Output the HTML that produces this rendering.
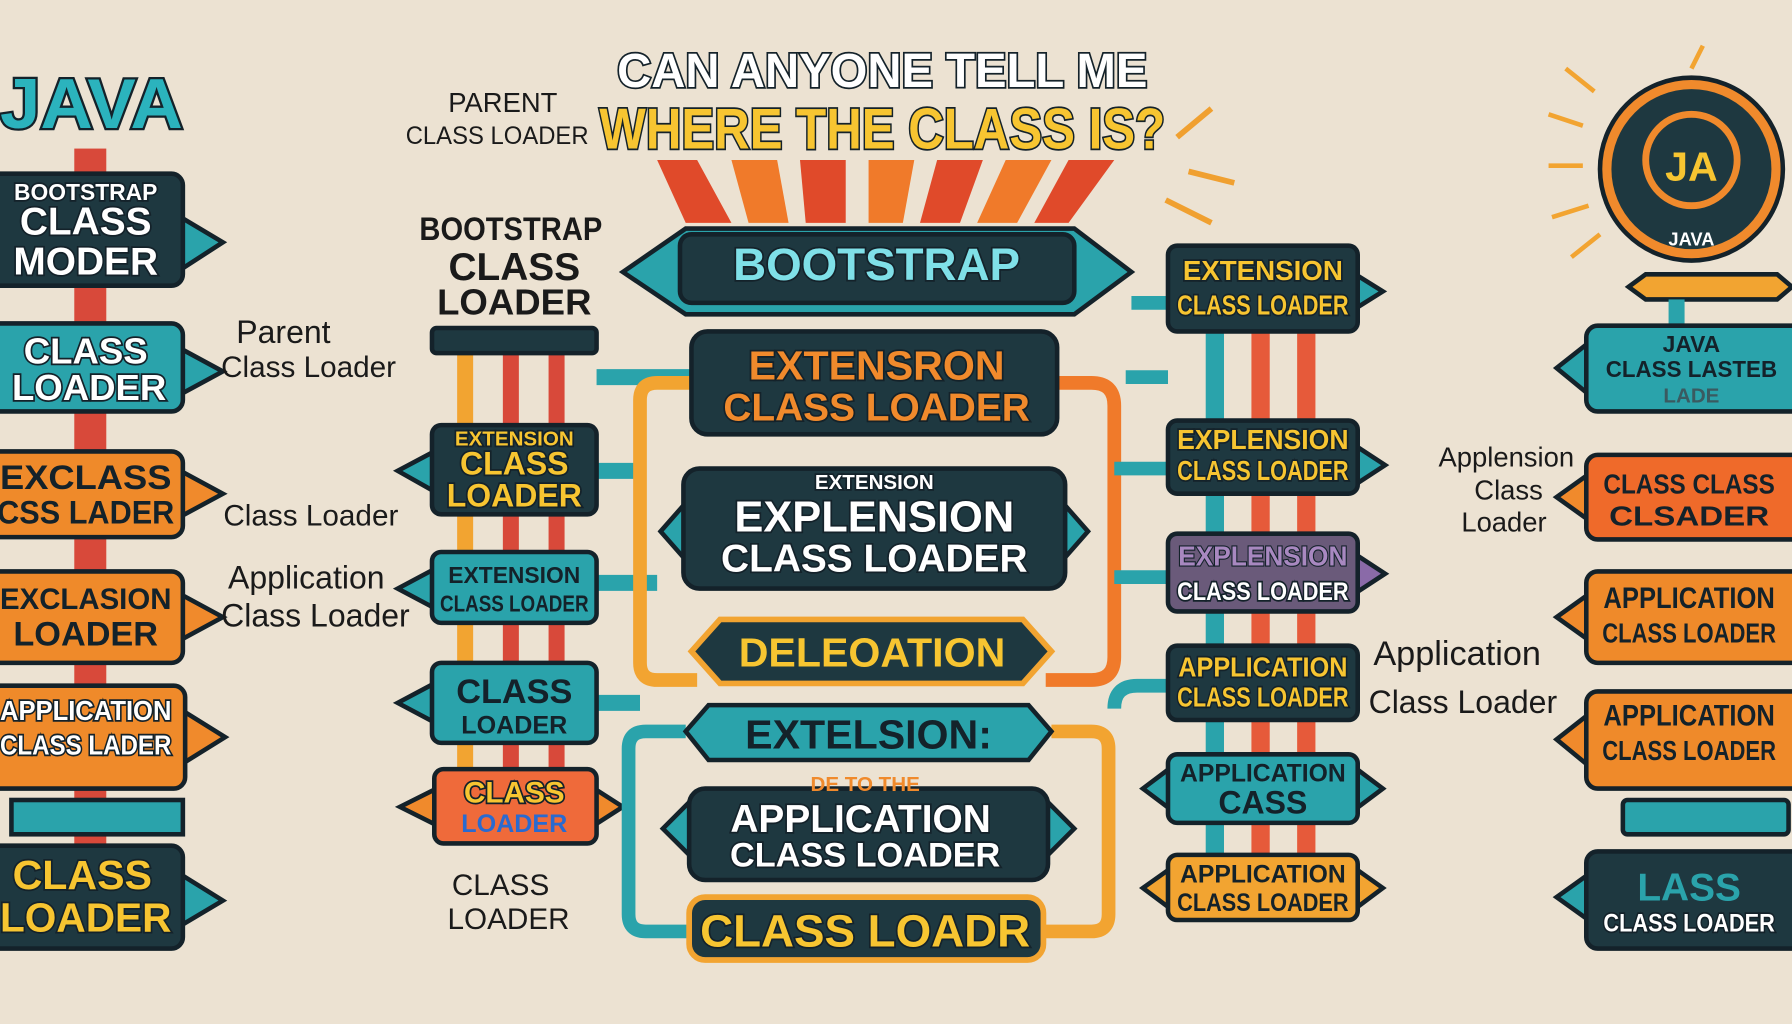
<!DOCTYPE html>
<html><head><meta charset="utf-8"><style>
html,body{margin:0;padding:0;background:#ece2d2;overflow:hidden}
svg{display:block}
text{font-family:"Liberation Sans",sans-serif;font-weight:bold;text-anchor:middle}
.w{fill:#fff;stroke:#14222a;stroke-width:3;paint-order:stroke}
.y{fill:#f7c531;stroke:#14222a;stroke-width:3;paint-order:stroke}
.o{fill:#f08a2c;stroke:#14222a;stroke-width:3;paint-order:stroke}
.d{fill:#14222a}
.p{font-weight:normal;fill:#1a1a1a}
.box{stroke:#14222a;stroke-width:4}
</style></head><body>
<svg width="1792" height="1024" viewBox="0 0 1568 896" xmlns="http://www.w3.org/2000/svg">
<rect width="1568" height="896" fill="#ece2d2"/>
<rect x="65" y="130" width="28" height="640" fill="#d8493a"/>
<rect x="10" y="700" width="150" height="30" fill="#2aa3ab" class="box"/>
<text x="80" y="112" font-size="62" fill="#2bb3bd" stroke="#14222a" stroke-width="4" paint-order="stroke" textLength="160" lengthAdjust="spacingAndGlyphs">JAVA</text>
<g><polygon points="158,190 195,212 158,236" fill="#2aa3ab" class="box"/>
<rect x="-10" y="152" width="170" height="98" rx="10" fill="#1e3840" class="box" stroke="#2aa3ab"/>
<text x="75" y="175" font-size="20" class="w">BOOTSTRAP</text>
<text x="75" y="205" font-size="34" class="w">CLASS</text>
<text x="75" y="240" font-size="34" class="w">MODER</text></g>
<g><polygon points="158,305 195,325 158,345" fill="#2aa3ab" class="box"/>
<rect x="-10" y="283" width="170" height="77" rx="10" fill="#2aa3ab" class="box"/>
<text x="75" y="318" font-size="32" class="w">CLASS</text><text x="78" y="350" font-size="32" class="w">LOADER</text></g>
<g><polygon points="158,412 195,432 158,452" fill="#f08a2c" class="box"/>
<rect x="-10" y="395" width="170" height="75" rx="10" fill="#ef8a2a" class="box"/>
<text x="75" y="428" font-size="30" class="d" textLength="150" lengthAdjust="spacingAndGlyphs">EXCLASS</text><text x="75" y="458" font-size="28" class="d" textLength="155" lengthAdjust="spacingAndGlyphs">CSS LADER</text></g>
<g><polygon points="158,520 195,540 158,560" fill="#f08a2c" class="box"/>
<rect x="-10" y="500" width="170" height="80" rx="10" fill="#ef8a2a" class="box"/>
<text x="75" y="533" font-size="26" class="d" textLength="150" lengthAdjust="spacingAndGlyphs">EXCLASION</text><text x="75" y="565" font-size="30" class="d">LOADER</text></g>
<g><polygon points="160,622 197,645 160,668" fill="#f08a2c" class="box"/>
<rect x="-10" y="600" width="172" height="90" rx="10" fill="#ef8a2a" class="box"/>
<text x="75" y="630" font-size="24" class="w" textLength="150" lengthAdjust="spacingAndGlyphs">APPLICATION</text><text x="75" y="660" font-size="24" class="w" textLength="150" lengthAdjust="spacingAndGlyphs">CLASS LADER</text></g>
<g><polygon points="158,765 195,788 158,810" fill="#2aa3ab" class="box"/>
<rect x="-10" y="740" width="170" height="90" rx="10" fill="#1e3840" class="box" stroke="#2aa3ab"/>
<text x="72" y="778" font-size="36" class="y">CLASS</text><text x="75" y="815" font-size="36" class="y" textLength="150" lengthAdjust="spacingAndGlyphs">LOADER</text></g>
<text x="248" y="300" font-size="28" class="p">Parent</text>
<text x="270" y="330" font-size="26" class="p">Class Loader</text>
<text x="272" y="460" font-size="26" class="p">Class Loader</text>
<text x="268" y="515" font-size="28" class="p">Application</text>
<text x="276" y="548" font-size="28" class="p">Class Loader</text>
<text x="440" y="98" font-size="24" class="p">PARENT</text>
<text x="435" y="126" font-size="22" class="p" textLength="160" lengthAdjust="spacingAndGlyphs">CLASS LOADER</text>
<text x="447" y="210" font-size="28" fill="#1a1a1a" textLength="160" lengthAdjust="spacingAndGlyphs">BOOTSTRAP</text>
<text x="450" y="245" font-size="34" fill="#1a1a1a">CLASS</text>
<text x="450" y="275" font-size="32" fill="#1a1a1a">LOADER</text>
<text x="438" y="783" font-size="26" class="p">CLASS</text>
<text x="445" y="813" font-size="26" class="p">LOADER</text>
<rect x="400" y="307" width="14" height="370" fill="#f2a431"/>
<rect x="440" y="307" width="14" height="370" fill="#d8493a"/>
<rect x="480" y="307" width="14" height="370" fill="#d8493a"/>
<rect x="378" y="287" width="144" height="22" rx="4" fill="#1e3840" class="box"/>
<path d="M522,330 H610 M522,412 H560 M522,510 H575 M522,615 H560" stroke="#2aa3ab" stroke-width="14" fill="none"/>
<g><polygon points="380,395 348,412 380,430" fill="#2aa3ab" class="box"/>
<rect x="378" y="372" width="144" height="78" rx="8" fill="#1e3840" class="box"/>
<text x="450" y="390" font-size="18" class="y">EXTENSION</text><text x="450" y="415" font-size="28" class="y">CLASS</text><text x="450" y="443" font-size="28" class="y">LOADER</text></g>
<g><polygon points="380,498 348,515 380,532" fill="#2aa3ab" class="box"/>
<rect x="378" y="483" width="144" height="62" rx="8" fill="#2aa3ab" class="box"/>
<text x="450" y="510" font-size="20" class="d">EXTENSION</text><text x="450" y="535" font-size="20" class="d" textLength="130" lengthAdjust="spacingAndGlyphs">CLASS LOADER</text></g>
<g><polygon points="380,598 348,615 380,632" fill="#2aa3ab" class="box"/>
<rect x="378" y="580" width="144" height="70" rx="8" fill="#2aa3ab" class="box"/>
<text x="450" y="615" font-size="30" class="d">CLASS</text><text x="450" y="642" font-size="22" class="d">LOADER</text></g>
<g><polygon points="382,690 350,706 382,722" fill="#f08a2c" class="box"/><polygon points="520,690 545,706 520,722" fill="#f08a2c" class="box"/>
<rect x="380" y="673" width="142" height="65" rx="8" fill="#ef6a3a" class="box"/>
<text x="450" y="702" font-size="26" class="y">CLASS</text><text x="450" y="728" font-size="22" fill="#2a6ad0">LOADER</text></g>
<g>
<polygon points="575,140 610,140 640,195 600,195" fill="#e04a2a"/>
<polygon points="640,140 680,140 690,195 655,195" fill="#f07a2a"/>
<polygon points="700,140 740,140 740,195 705,195" fill="#e04a2a"/>
<polygon points="760,140 800,140 790,195 760,195" fill="#f07a2a"/>
<polygon points="820,140 860,140 840,195 805,195" fill="#e04a2a"/>
<polygon points="880,140 920,140 890,195 855,195" fill="#f07a2a"/>
<polygon points="935,140 975,140 935,195 905,195" fill="#e04a2a"/>
</g>
<text x="772" y="76" font-size="42" class="w" stroke-width="6" textLength="464" lengthAdjust="spacingAndGlyphs">CAN ANYONE TELL ME</text>
<text x="772" y="130" font-size="50" class="y" stroke-width="7" textLength="495" lengthAdjust="spacingAndGlyphs">WHERE THE CLASS IS?</text>
<path d="M1030,120 l30,-25 M1040,150 l40,10 M1020,175 l40,20" stroke="#f0a030" stroke-width="5"/>
<path d="M605,335 H575 Q560,335 560,350 V580 Q560,595 575,595 H610" stroke="#f2a431" stroke-width="12" fill="none"/>
<path d="M920,335 H955 Q975,335 975,355 V575 Q975,595 955,595 H915" stroke="#f07a2a" stroke-width="12" fill="none"/>
<path d="M600,640 H565 Q550,640 550,655 V800 Q550,815 565,815 H605" stroke="#2aa3ab" stroke-width="12" fill="none"/>
<path d="M920,640 H955 Q970,640 970,655 V800 Q970,815 955,815 H915" stroke="#f2a431" stroke-width="12" fill="none"/>
<path d="M975,410 H1022 M975,505 H1022 M975,620 Q975,600 995,600 H1022 M985,330 H1022 M990,265 H1022" stroke="#2aa3ab" stroke-width="12" fill="none"/>
<polygon points="545,238 600,200 940,200 990,238 940,275 600,275" fill="#2aa3ab" class="box"/>
<rect x="595" y="205" width="345" height="60" rx="10" fill="#1e3840" class="box"/>
<text x="767" y="245" font-size="40" fill="#7fe0e8" stroke="#14222a" stroke-width="3" paint-order="stroke">BOOTSTRAP</text>
<rect x="605" y="290" width="320" height="90" rx="14" fill="#1e3840" class="box" stroke="#2aa3ab"/>
<text x="767" y="332" font-size="36" class="o">EXTENSRON</text>
<text x="767" y="368" font-size="34" class="o">CLASS LOADER</text>
<polygon points="600,440 578,465 600,490" fill="#2aa3ab" class="box"/><polygon points="930,440 952,465 930,490" fill="#2aa3ab" class="box"/>
<rect x="598" y="410" width="334" height="105" rx="14" fill="#1e3840" class="box" stroke="#2aa3ab"/>
<text x="765" y="428" font-size="18" class="w">EXTENSION</text>
<text x="765" y="465" font-size="38" class="w">EXPLENSION</text>
<text x="765" y="500" font-size="34" class="w">CLASS LOADER</text>
<polygon points="605,570 630,542 895,542 920,570 895,598 630,598" fill="#1e3840" stroke="#f2a431" stroke-width="5"/>
<text x="763" y="583" font-size="36" fill="#f7c531">DELEOATION</text>
<polygon points="600,640 620,617 900,617 920,640 900,665 620,665" fill="#2aa3ab" class="box"/>
<text x="760" y="655" font-size="36" class="d">EXTELSION:</text>
<polygon points="605,700 580,725 605,750" fill="#2aa3ab" class="box"/><polygon points="915,700 940,725 915,750" fill="#2aa3ab" class="box"/>
<rect x="603" y="690" width="314" height="80" rx="14" fill="#1e3840" class="box" stroke="#2aa3ab"/>
<text x="757" y="692" font-size="18" fill="#f08a2c">DE TO THE</text>
<text x="753" y="728" font-size="34" class="w">APPLICATION</text>
<text x="757" y="758" font-size="30" class="w">CLASS LOADER</text>
<rect x="603" y="785" width="310" height="55" rx="14" fill="#1e3840" stroke="#f2a431" stroke-width="5"/>
<text x="757" y="828" font-size="40" class="y">CLASS LOADR</text>
<rect x="1055" y="290" width="16" height="460" fill="#2aa3ab"/>
<rect x="1095" y="290" width="16" height="460" fill="#e65a3a"/>
<rect x="1135" y="290" width="16" height="460" fill="#e65a3a"/>
<g><polygon points="1186,240 1210,255 1186,270" fill="#2aa3ab" class="box"/>
<rect x="1022" y="215" width="166" height="75" rx="8" fill="#1e3840" class="box"/>
<text x="1105" y="245" font-size="24" class="y" textLength="140" lengthAdjust="spacingAndGlyphs">EXTENSION</text><text x="1105" y="275" font-size="24" class="y" textLength="150" lengthAdjust="spacingAndGlyphs">CLASS LOADER</text></g>
<g><polygon points="1186,390 1212,407 1186,424" fill="#2aa3ab" class="box"/>
<rect x="1022" y="368" width="166" height="64" rx="8" fill="#1e3840" class="box"/>
<text x="1105" y="393" font-size="24" class="y" textLength="150" lengthAdjust="spacingAndGlyphs">EXPLENSION</text><text x="1105" y="420" font-size="24" class="y" textLength="150" lengthAdjust="spacingAndGlyphs">CLASS LOADER</text></g>
<g><polygon points="1186,485 1212,502 1186,519" fill="#8a6aa8" class="box"/>
<rect x="1022" y="467" width="166" height="68" rx="8" fill="#6a5a7a" class="box"/>
<text x="1105" y="495" font-size="24" fill="#a888c0" stroke="#14222a" stroke-width="2" paint-order="stroke" textLength="148" lengthAdjust="spacingAndGlyphs">EXPLENSION</text><text x="1105" y="525" font-size="22" class="w" textLength="150" lengthAdjust="spacingAndGlyphs">CLASS LOADER</text></g>
<g><rect x="1022" y="565" width="166" height="65" rx="8" fill="#1e3840" class="box"/>
<text x="1105" y="592" font-size="24" class="y" textLength="148" lengthAdjust="spacingAndGlyphs">APPLICATION</text><text x="1105" y="618" font-size="24" class="y" textLength="150" lengthAdjust="spacingAndGlyphs">CLASS LOADER</text></g>
<g><polygon points="1024,672 1000,690 1024,708" fill="#2aa3ab" class="box"/><polygon points="1186,672 1210,690 1186,708" fill="#2aa3ab" class="box"/>
<rect x="1022" y="660" width="166" height="60" rx="8" fill="#2aa3ab" class="box"/>
<text x="1105" y="684" font-size="22" class="d" textLength="145" lengthAdjust="spacingAndGlyphs">APPLICATION</text><text x="1105" y="712" font-size="28" class="d">CASS</text></g>
<g><polygon points="1024,760 1000,777 1024,795" fill="#f2a431" class="box"/><polygon points="1186,760 1210,777 1186,795" fill="#f2a431" class="box"/>
<rect x="1022" y="748" width="166" height="57" rx="8" fill="#f2a431" class="box"/>
<text x="1105" y="772" font-size="22" class="d" textLength="145" lengthAdjust="spacingAndGlyphs">APPLICATION</text><text x="1105" y="797" font-size="22" class="d" textLength="150" lengthAdjust="spacingAndGlyphs">CLASS LOADER</text></g>
<text x="1275" y="582" font-size="30" class="p">Application</text>
<text x="1280" y="624" font-size="28" class="p">Class Loader</text>
<g stroke="#f2a431" stroke-width="4">
<line x1="1395" y1="80" x2="1370" y2="60"/><line x1="1385" y1="110" x2="1355" y2="100"/><line x1="1385" y1="145" x2="1355" y2="145"/><line x1="1390" y1="180" x2="1358" y2="190"/><line x1="1400" y1="205" x2="1375" y2="225"/><line x1="1480" y1="60" x2="1490" y2="40"/></g>
<circle cx="1480" cy="148" r="80" fill="#f08a2c" class="box"/>
<circle cx="1480" cy="148" r="70" fill="#1e3840"/>
<circle cx="1480" cy="140" r="40" fill="none" stroke="#f08a2c" stroke-width="6"/>
<text x="1480" y="158" font-size="36" fill="#f7c531">JA</text>
<text x="1480" y="215" font-size="16" fill="#fff">JAVA</text>
<polygon points="1425,251 1440,240 1555,240 1568,251 1555,262 1440,262" fill="#f2a431" class="box"/>
<rect x="1460" y="262" width="14" height="30" fill="#2aa3ab"/>
<g><polygon points="1390,300 1362,322 1390,345" fill="#2aa3ab" class="box"/>
<rect x="1388" y="285" width="190" height="75" rx="10" fill="#2aa3ab" class="box"/>
<text x="1480" y="308" font-size="20" class="d">JAVA</text><text x="1480" y="330" font-size="20" class="d" textLength="150" lengthAdjust="spacingAndGlyphs">CLASS LASTEB</text><text x="1480" y="352" font-size="18" fill="#3a5a60">LADE</text></g>
<text x="1318" y="408" font-size="24" class="p">Applension</text>
<text x="1320" y="437" font-size="24" class="p">Class</text>
<text x="1316" y="465" font-size="24" class="p">Loader</text>
<g><polygon points="1390,415 1362,435 1390,455" fill="#f08a2c" class="box"/>
<rect x="1388" y="398" width="190" height="74" rx="10" fill="#ef6a2a" class="box"/>
<text x="1478" y="432" font-size="24" class="d" textLength="150" lengthAdjust="spacingAndGlyphs">CLASS CLASS</text><text x="1478" y="460" font-size="24" class="d" textLength="140" lengthAdjust="spacingAndGlyphs">CLSADER</text></g>
<g><polygon points="1390,520 1362,540 1390,560" fill="#f08a2c" class="box"/>
<rect x="1388" y="500" width="190" height="80" rx="10" fill="#ef8a2a" class="box"/>
<text x="1478" y="532" font-size="26" class="d" textLength="150" lengthAdjust="spacingAndGlyphs">APPLICATION</text><text x="1478" y="562" font-size="24" class="d" textLength="152" lengthAdjust="spacingAndGlyphs">CLASS LOADER</text></g>
<g><polygon points="1390,625 1362,647 1390,670" fill="#f08a2c" class="box"/>
<rect x="1388" y="605" width="190" height="85" rx="10" fill="#ef8a2a" class="box"/>
<text x="1478" y="635" font-size="26" class="d" textLength="150" lengthAdjust="spacingAndGlyphs">APPLICATION</text><text x="1478" y="665" font-size="24" class="d" textLength="152" lengthAdjust="spacingAndGlyphs">CLASS LOADER</text></g>
<rect x="1420" y="700" width="145" height="30" rx="4" fill="#2aa3ab" class="box"/>
<g><polygon points="1390,765 1362,785 1390,805" fill="#2aa3ab" class="box"/>
<rect x="1388" y="745" width="190" height="85" rx="10" fill="#1e3840" class="box" stroke="#2aa3ab"/>
<text x="1478" y="788" font-size="34" fill="#2aa3ab">LASS</text><text x="1478" y="815" font-size="22" class="w" textLength="150" lengthAdjust="spacingAndGlyphs">CLASS LOADER</text></g>
</svg>
</body></html>
